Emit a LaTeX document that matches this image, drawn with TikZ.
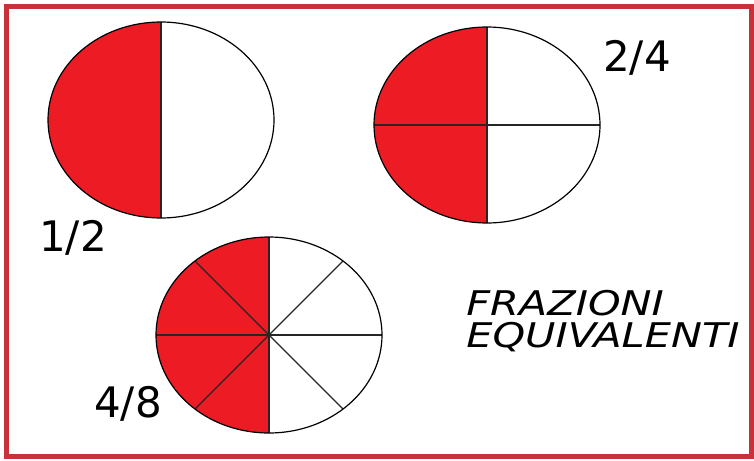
\documentclass[tikz,border=0pt]{standalone}
\usepackage{fontspec}
\setmainfont{DejaVu Sans}
\definecolor{paintred}{RGB}{237,28,36}
\definecolor{framered}{RGB}{200,48,58}
\tikzset{
  frac/.style={font=\fontsize{42}{44}\selectfont},
  heading/.style={font=\fontsize{34}{32}\selectfont\itshape,align=left,anchor=west,xscale=1.22,transform shape},
  rim/.style={line width=1.2pt,black},
  cut/.style={line width=1.4pt,black!85}
}
\begin{document}
\begin{tikzpicture}[x=1pt,y=-1pt]
\useasboundingbox (0,0) rectangle (754,460);
\draw[framered,line width=5pt] (6,7) rectangle (751,456);

% 1/2
\coordinate (half) at (161,120);
\fill[paintred] (161,22) arc[start angle=270,end angle=90,x radius=113,y radius=98] -- cycle;
\draw[cut] (161,22) -- (161,218);
\draw[rim] (half) ellipse [x radius=113,y radius=98];
\node[frac] (lab12) at (73,238) {1/2};

% 2/4
\coordinate (quarter) at (487,125);
\fill[paintred] (487,27) arc[start angle=270,end angle=90,x radius=113,y radius=98] -- cycle;
\draw[cut] (487,27) -- (487,223);
\draw[cut] (374,125) -- (600,125);
\draw[rim] (quarter) ellipse [x radius=113,y radius=98];
\node[frac] (lab24) at (637,58) {2/4};

% 4/8
\coordinate (eighth) at (269,335);
\fill[paintred] (269,237) arc[start angle=270,end angle=90,x radius=113,y radius=98] -- cycle;
\draw[cut] (269,237) -- (269,433);
\draw[cut] (156,335) -- (382,335);
\foreach \dx/\dy in {74/74,74/-74,-74/74,-74/-74}
  \draw[cut] (eighth) -- ++(\dx,\dy);
\draw[rim] (eighth) ellipse [x radius=113,y radius=98];
\node[frac] (lab48) at (128,404) {4/8};

\node[heading] (titolo) at (462,321) {FRAZIONI\\EQUIVALENTI};
\end{tikzpicture}
\end{document}
